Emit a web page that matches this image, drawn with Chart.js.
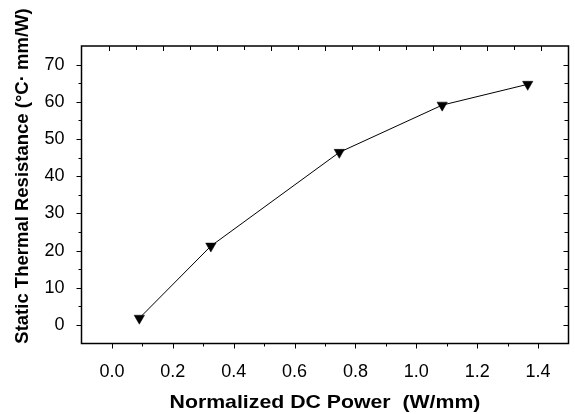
<!DOCTYPE html>
<html>
<head>
<meta charset="utf-8">
<script src="https://cdn.jsdelivr.net/npm/chart.js@4"></script>
<style>
  body { margin: 0; background: #fff; }
</style>
</head>
<body>
<canvas id="grafico" width="575" height="414"></canvas>
<script>
// valores
const potencia = [0.09, 0.325, 0.747, 1.085, 1.366];      // W/mm
const resistencia = [1.8, 21.2, 46.4, 59.1, 64.7];        // °C·mm/W
const marcasX = [0, 0.2, 0.4, 0.6, 0.8, 1.0, 1.2, 1.4];
const marcasY = [0, 10, 20, 30, 40, 50, 60, 70];
const tituloX = 'Normalized DC Power  (W/mm)';
const tituloY = 'Static Thermal Resistance (\u00B0C\u00B7 mm/W)';
const fuente = '"Liberation Sans", Arial, sans-serif';

function marca(ctx, x1, y1, x2, y2) {
    ctx.beginPath();
    ctx.moveTo(x1, y1);
    ctx.lineTo(x2, y2);
    ctx.stroke();
}

// marco, ticks menores/mayores y títulos de ejes
const marco = {
    id: 'marco',
    afterDraw(chart) {
        const { ctx, chartArea: a, scales } = chart;
        const sx = scales.x, sy = scales.y, st = scales.x2;
        ctx.save();
        ctx.strokeStyle = '#000';
        ctx.lineWidth = 1;
        for (let i = 0; i <= 14; i++) {
            const px = Math.round(sx.getPixelForValue(i / 10)) + 0.5;
            marca(ctx, px, a.bottom, px, a.bottom + (i % 2 === 0 ? 5 : 3));
        }
        for (let i = 0; i <= 16; i++) {
            const px = Math.round(st.getPixelForValue(i / 10)) + 0.5;
            marca(ctx, px, a.top, px, a.top + (i % 2 === 0 ? 5 : 4));
        }
        for (let v = 0; v <= 70; v += 5) {
            const py = Math.round(sy.getPixelForValue(v)) + 0.5;
            marca(ctx, a.left, py, a.left - (v % 10 === 0 ? 5 : 3), py);
            marca(ctx, a.right, py, a.right - (v % 10 === 0 ? 5 : 4), py);
        }
        ctx.lineWidth = 1.5;
        ctx.strokeRect(a.left, a.top, a.right - a.left, a.bottom - a.top);

        ctx.fillStyle = '#000';
        ctx.font = 'bold 18.5px ' + fuente;
        ctx.textAlign = 'center';
        ctx.textBaseline = 'alphabetic';
        // título X (algo más ancho en el original)
        ctx.save();
        ctx.translate((a.left + a.right) / 2, 408);
        ctx.scale(1.15, 1);
        ctx.fillText(tituloX, 0, 0);
        ctx.restore();
        // título Y
        ctx.save();
        ctx.translate(28, 176);
        ctx.rotate(-Math.PI / 2);
        ctx.fillText(tituloY, 0, 0);
        ctx.restore();
        ctx.restore();
    }
};

const puntos = potencia.map((x, i) => ({ x: x, y: resistencia[i] }));

new Chart(document.getElementById('grafico').getContext('2d'), {
    type: 'scatter',
    data: {
        datasets: [{
            data: puntos,
            showLine: true,
            borderColor: '#000',
            borderWidth: 1,
            backgroundColor: '#000',
            pointStyle: 'triangle',
            rotation: 180,
            pointRadius: 6,
            pointBorderWidth: 0.5
        }]
    },
    options: {
        responsive: false,
        animation: false,
        layout: { padding: { right: 1 } },
        plugins: { legend: { display: false }, tooltip: { enabled: false } },
        scales: {
            x: {
                type: 'linear', position: 'bottom', min: -0.1, max: 1.5,
                grid: { display: false }, border: { display: false },
                ticks: { padding: 10, color: '#000', maxRotation: 0,
                    font: { family: fuente, size: 18 }, callback: v => v.toFixed(1) },
                afterBuildTicks: s => { s.ticks = marcasX.map(v => ({ value: v })); },
                afterFit: s => { s.height = 70.5; s.paddingRight = 0; s.paddingLeft = 0; }
            },
            x2: {
                type: 'linear', position: 'top', min: -0.1, max: 1.7,
                grid: { display: false }, border: { display: false },
                ticks: { display: false },
                afterFit: s => { s.height = 46; }
            },
            y: {
                type: 'linear', min: -5, max: 75,
                grid: { display: false }, border: { display: false },
                ticks: { padding: 9, color: '#000',
                    font: { family: fuente, size: 18 } },
                afterBuildTicks: s => { s.ticks = marcasY.map(v => ({ value: v })); },
                afterFit: s => { s.width = 81.5; s.paddingTop = 0; s.paddingBottom = 0; }
            }
        }
    },
    plugins: [marco]
});
</script>
</body>
</html>
